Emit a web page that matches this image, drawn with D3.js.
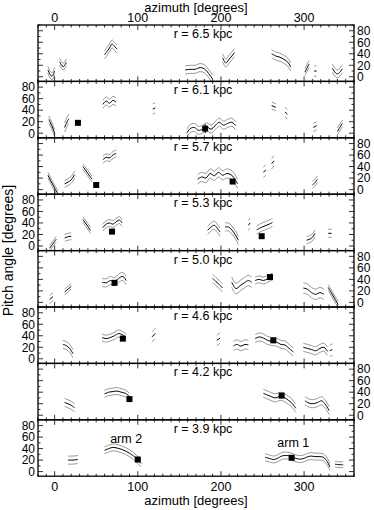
<!DOCTYPE html>
<html>
<head>
<meta charset="utf-8">
<script src="https://cdn.jsdelivr.net/npm/d3@7"></script>
<style>
body { margin: 0; background: #fff; }
text { font-family: "Liberation Sans", Arial, sans-serif; fill: #000; }
</style>
</head>
<body>
<div id="chart"></div>
<script>
// radius of each panel, top to bottom
const radii = [6.5, 6.1, 5.7, 5.3, 5.0, 4.6, 4.2, 3.9];

// arm segments per panel: azimuth (deg), pitch angle (deg), error (deg)
const arms65 = [
    {az: [-8, -5, -3, 0], p: [12, 3, 1, 10], e: 6},
    {az: [6, 9, 11, 14], p: [26, 19, 18, 25], e: 6},
    {az: [60, 63, 66, 69, 72, 75], p: [38, 44, 50, 57, 53, 48], e: 7},
    {az: [157, 163, 169, 175, 180, 185, 190], p: [12, 13, 13, 16, 14, 6, -4], e: 7},
    {az: [202, 204, 206, 209, 213, 216], p: [33, 27, 24, 29, 36, 42], e: 7},
    {az: [261, 266, 271, 276, 280, 284], p: [40, 36, 34, 30, 26, 17], e: 7},
    {az: [301, 303, 306], p: [8, 14, 22], e: 6},
    {az: [312, 315], p: [10, 10], e: 9},
    {az: [334, 337, 340, 343, 346], p: [15, 8, 5, 8, 14], e: 7}
];
const arms61 = [
    {az: [-7, -5, -2, 0], p: [24, 18, 8, 0], e: 6},
    {az: [12, 14, 17], p: [10, 17, 25], e: 8},
    {az: [58, 62, 66, 70, 74], p: [50, 56, 52, 57, 54], e: 7},
    {az: [118, 121], p: [42, 44], e: 9},
    {az: [159, 163, 168, 173, 178, 183, 188, 193, 198, 203, 208, 213, 218],
     p: [0, 8, 10, 5, 7, 11, 7, 13, 19, 14, 17, 19, 13], e: 7},
    {az: [261, 266], p: [48, 45], e: 6},
    {az: [277, 280], p: [37, 33], e: 8},
    {az: [311, 315], p: [10, 13], e: 7},
    {az: [340, 343, 346], p: [3, 10, 17], e: 6}
];
const arms57 = [
    {az: [-8, -5, -2, 1, 4], p: [25, 16, 8, 0, -7], e: 5},
    {az: [12, 16, 20, 24], p: [10, 13, 17, 26], e: 6},
    {az: [34, 37, 40, 43, 45], p: [40, 34, 28, 22, 18], e: 5},
    {az: [58, 62, 66, 70, 74], p: [52, 56, 55, 60, 63], e: 6},
    {az: [172, 177, 182, 187, 192, 197, 202, 207, 212, 216, 220],
     p: [18, 22, 20, 28, 24, 30, 25, 28, 26, 20, 10], e: 8},
    {az: [251, 254], p: [30, 34], e: 9},
    {az: [261, 264], p: [45, 50], e: 9},
    {az: [310, 313, 316], p: [8, 12, 18], e: 6}
];
const arms53 = [
    {az: [-6, -3, 0, 2], p: [-4, 2, 8, 12], e: 5},
    {az: [12, 16, 20], p: [14, 16, 17], e: 6},
    {az: [34, 37, 40, 43], p: [46, 40, 34, 27], e: 5},
    {az: [58, 62, 66, 70, 74, 78, 81], p: [32, 38, 40, 38, 42, 45, 40], e: 6},
    {az: [184, 188, 192, 196, 199], p: [27, 33, 36, 30, 24], e: 7},
    {az: [205, 209, 213, 217, 221], p: [33, 33, 28, 20, 10], e: 7},
    {az: [233, 235], p: [36, 40], e: 9},
    {az: [243, 248, 253, 258, 262], p: [28, 32, 35, 38, 41], e: 7},
    {az: [303, 307, 310, 313], p: [10, 12, 15, 22], e: 6},
    {az: [329, 333], p: [22, 22], e: 7}
];
const arms50 = [
    {az: [-6, -2], p: [5, 10], e: 7},
    {az: [12, 16, 20], p: [18, 23, 28], e: 5},
    {az: [57, 62, 67, 72, 77, 82, 86], p: [35, 34, 38, 36, 42, 45, 38], e: 7},
    {az: [190, 194, 198, 202], p: [42, 36, 31, 25], e: 7},
    {az: [213, 218, 223, 228, 233, 237], p: [35, 24, 29, 34, 38, 35], e: 9},
    {az: [241, 246, 251, 256, 262], p: [38, 40, 38, 41, 45], e: 6},
    {az: [299, 304, 309, 314, 319, 324], p: [25, 23, 17, 14, 17, 14], e: 9},
    {az: [329, 333, 337, 341], p: [26, 16, 6, -4], e: 5}
];
const arms46 = [
    {az: [10, 14, 18, 22], p: [25, 23, 18, 9], e: 7},
    {az: [57, 62, 67, 72, 77, 81, 86], p: [37, 35, 37, 40, 44, 42, 37], e: 6},
    {az: [117, 121], p: [38, 44], e: 9},
    {az: [195, 199], p: [32, 36], e: 9},
    {az: [215, 219, 224, 229, 233], p: [22, 25, 22, 25, 24], e: 8},
    {az: [241, 246, 251, 256, 262, 267, 272, 277, 282, 287],
     p: [35, 38, 36, 32, 30, 29, 25, 24, 18, 12], e: 7},
    {az: [299, 304, 309, 314, 319, 324, 328], p: [20, 18, 16, 14, 18, 20, 13], e: 7},
    {az: [331, 334], p: [14, 16], e: 10}
];
const arms42 = [
    {az: [12, 16, 20, 24], p: [22, 20, 17, 13], e: 7},
    {az: [60, 65, 70, 75, 80, 85, 90], p: [37, 40, 41, 42, 40, 38, 32], e: 6},
    {az: [251, 256, 261, 266, 271, 276, 281, 286, 290],
     p: [38, 35, 32, 30, 33, 31, 26, 20, 12], e: 7},
    {az: [301, 306, 311, 316, 321, 326, 330], p: [25, 21, 20, 22, 25, 18, 8], e: 7}
];
const arms39 = [
    {az: [16, 22, 28], p: [20, 20, 21], e: 7},
    {az: [60, 65, 70, 75, 80, 85, 90, 95, 100, 104],
     p: [37, 40, 42, 41, 39, 36, 32, 27, 20, 14], e: 6},
    {az: [253, 258, 263, 268, 273, 278, 283, 288, 293, 298, 303, 308, 313, 318, 323, 328, 331],
     p: [25, 23, 21, 23, 27, 28, 27, 24, 22, 22, 25, 27, 26, 26, 25, 17, 8], e: 6},
    {az: [337, 342, 347], p: [13, 12, 12], e: 5}
];
const panelArms = [arms65, arms61, arms57, arms53, arms50, arms46, arms42, arms39];

// filled squares [azimuth, pitch] per panel
const squares = [
    [],
    [[28, 18], [181, 8]],
    [[50, 8], [214, 14]],
    [[69, 25], [249, 17]],
    [[72, 34], [259, 44]],
    [[82, 35], [263, 32]],
    [[90, 28], [273, 34]],
    [[100, 21], [285, 24]]
];
// arm labels in the lowest panel [text, azimuth, pitch]
const armLabels = [["arm 2", 86, 57], ["arm 1", 287, 51]];

const xTicks = [0, 100, 200, 300];
const yTicks = [0, 20, 40, 60, 80];

const width = 374, height = 510;
const marginLeft = 38, marginRight = 354, marginTop = 25, panelH = 56.4;

const svg = d3.select("#chart").append("svg")
    .attr("width", width)
    .attr("height", height);

const x = d3.scaleLinear().domain([-20, 360]).range([marginLeft, marginRight]);

const line = (yS) => d3.line()
    .x(d => x(d[0]))
    .y(d => yS(d[1]))
    .curve(d3.curveCatmullRom);

radii.forEach((r, i) => {
    const y0 = marginTop + i * panelH;
    const y = d3.scaleLinear().domain([-8, 90]).range([y0 + panelH, y0]);
    const g = svg.append("g");

    g.append("clipPath").attr("id", "clip" + i)
        .append("rect")
        .attr("x", marginLeft).attr("y", y0)
        .attr("width", marginRight - marginLeft).attr("height", panelH);

    const plot = g.append("g").attr("clip-path", "url(#clip" + i + ")");
    panelArms[i].forEach(s => {
        const pts = s.az.map((a, k) => [a, s.p[k]]);
        [1, -1].forEach(sign => {
            plot.append("path")
                .attr("d", line(y)(pts.map(d => [d[0], d[1] + sign * s.e])))
                .style("fill", "none")
                .style("stroke", "#444")
                .style("stroke-width", 0.55);
        });
        plot.append("path")
            .attr("d", line(y)(pts))
            .style("fill", "none")
            .style("stroke", "#000")
            .style("stroke-width", 1);
    });
    squares[i].forEach(d => {
        plot.append("rect")
            .attr("x", x(d[0]) - 3).attr("y", y(d[1]) - 3)
            .attr("width", 6).attr("height", 6)
            .style("fill", "#000");
    });
    if (i == 1) {
        // error bar on the central square
        const d = squares[1][1];
        plot.append("line")
            .attr("x1", x(d[0])).attr("x2", x(d[0]))
            .attr("y1", y(d[1] - 8)).attr("y2", y(d[1] + 8))
            .style("stroke", "#000").style("stroke-width", 1);
    }

    // ticks on all four sides
    d3.range(-20, 361, 10).forEach(t => {
        const len = (t % 100 == 0) ? 5 : 2.5;
        g.append("line")
            .attr("x1", x(t)).attr("x2", x(t))
            .attr("y1", y0 + panelH).attr("y2", y0 + panelH - len)
            .style("stroke", "#000").style("stroke-width", 0.8);
        g.append("line")
            .attr("x1", x(t)).attr("x2", x(t))
            .attr("y1", y0).attr("y2", y0 + len)
            .style("stroke", "#000").style("stroke-width", 0.8);
    });
    d3.range(0, 91, 10).forEach(t => {
        const len = (t % 20 == 0 && t <= 80) ? 5 : 2.5;
        g.append("line")
            .attr("x1", marginLeft).attr("x2", marginLeft + len)
            .attr("y1", y(t)).attr("y2", y(t))
            .style("stroke", "#000").style("stroke-width", 0.8);
        g.append("line")
            .attr("x1", marginRight).attr("x2", marginRight - len)
            .attr("y1", y(t)).attr("y2", y(t))
            .style("stroke", "#000").style("stroke-width", 0.8);
    });

    g.append("rect")
        .attr("x", marginLeft).attr("y", y0)
        .attr("width", marginRight - marginLeft).attr("height", panelH)
        .style("fill", "none")
        .style("stroke", "#000")
        .style("stroke-width", 1.3);

    // y tick labels alternate right / left
    const onRight = (i % 2 == 0);
    yTicks.forEach(t => {
        g.append("text")
            .attr("x", onRight ? marginRight + 3 : marginLeft - 3)
            .attr("y", y(t))
            .attr("dy", "0.36em")
            .attr("text-anchor", onRight ? "start" : "end")
            .style("font-size", "12px")
            .text(t);
    });

    g.append("text")
        .attr("x", 203)
        .attr("y", y0 + 13)
        .attr("text-anchor", "middle")
        .style("font-size", "12.5px")
        .text("r = " + r.toFixed(1) + " kpc");
});

// arm labels
const yLast = d3.scaleLinear().domain([-8, 90])
    .range([marginTop + 8 * panelH, marginTop + 7 * panelH]);
armLabels.forEach(d => {
    svg.append("text")
        .attr("x", x(d[1])).attr("y", yLast(d[2]))
        .attr("dy", "0.36em")
        .attr("text-anchor", "middle")
        .style("font-size", "12.5px")
        .text(d[0]);
});

// top and bottom azimuth axes
const bottom = marginTop + 8 * panelH;
xTicks.forEach(t => {
    svg.append("text")
        .attr("x", x(t)).attr("y", 22)
        .attr("text-anchor", "middle")
        .style("font-size", "12.5px")
        .text(t);
    svg.append("text")
        .attr("x", x(t)).attr("y", bottom + 15)
        .attr("text-anchor", "middle")
        .style("font-size", "12.5px")
        .text(t);
});
svg.append("text")
    .attr("x", 196).attr("y", 11.5)
    .attr("text-anchor", "middle")
    .style("font-size", "13px")
    .text("azimuth [degrees]");
svg.append("text")
    .attr("x", 196).attr("y", bottom + 29)
    .attr("text-anchor", "middle")
    .style("font-size", "13px")
    .text("azimuth [degrees]");

svg.append("text")
    .attr("transform", "translate(13," + (marginTop + 4 * panelH) + ") rotate(-90)")
    .attr("text-anchor", "middle")
    .style("font-size", "14px")
    .text("Pitch angle [degrees]");
</script>
</body>
</html>
